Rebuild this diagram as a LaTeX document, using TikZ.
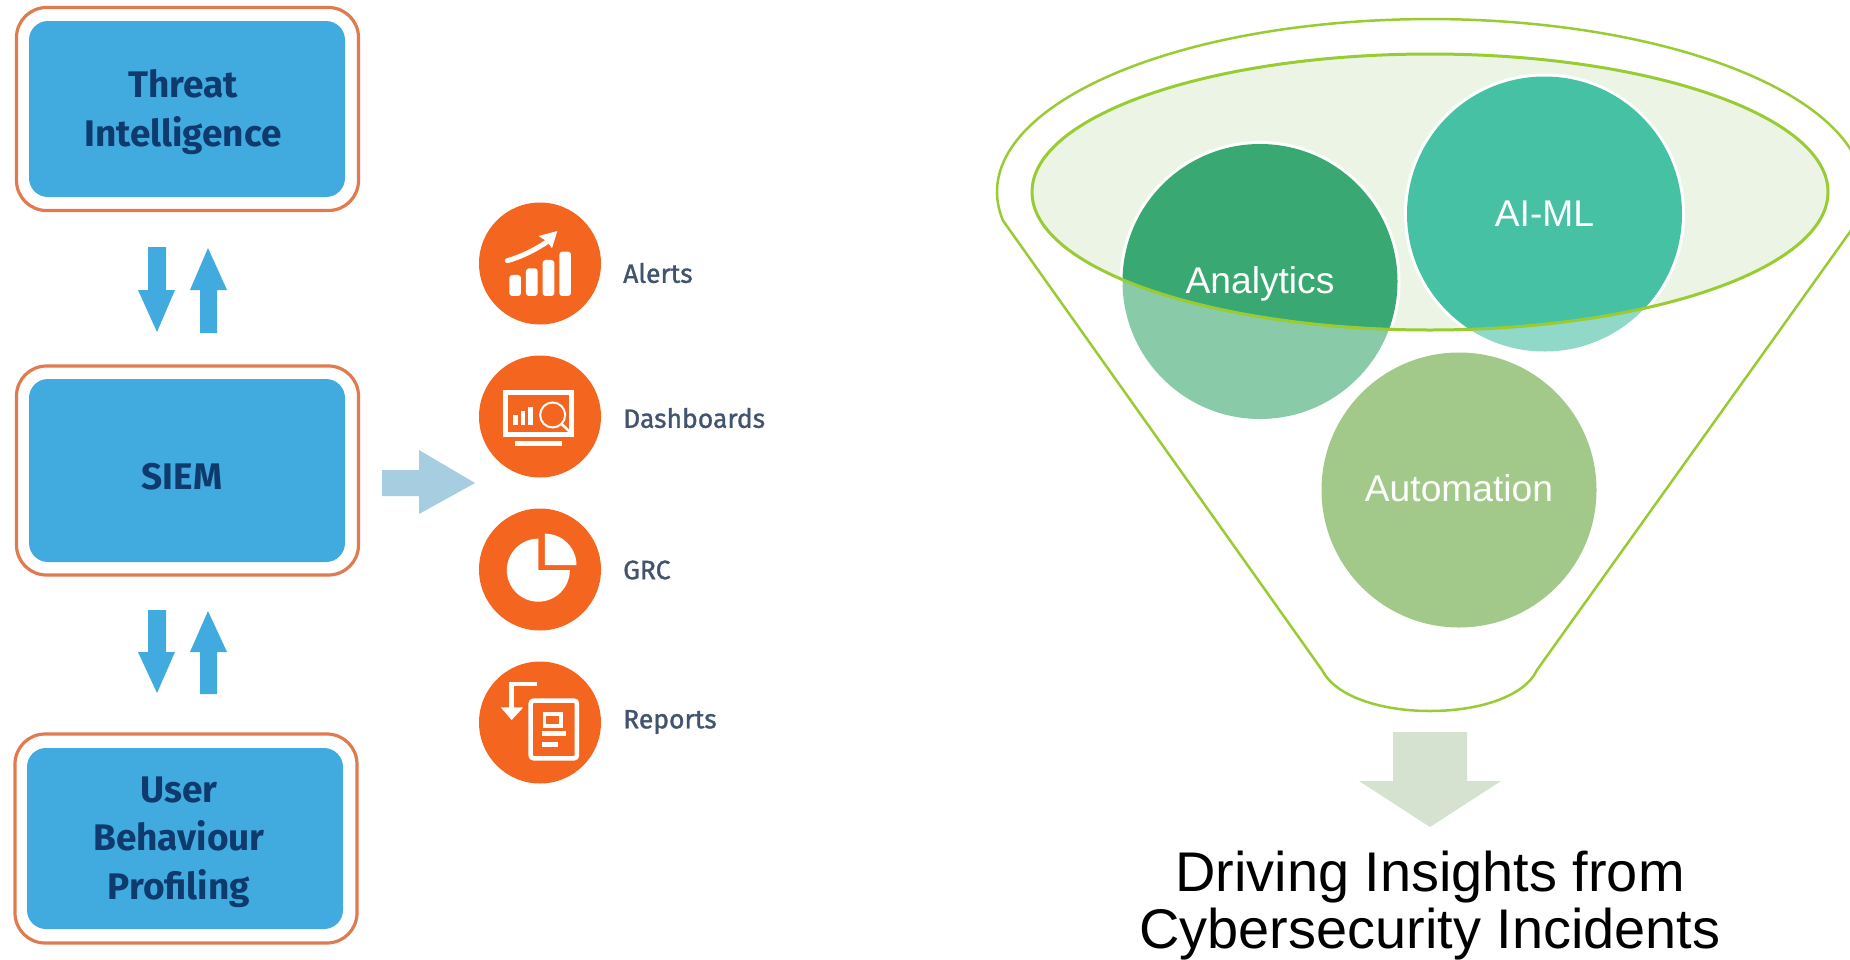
\documentclass[tikz,border=0pt]{standalone}
\usepackage{fontspec}
\setmainfont{Liberation Sans}
\newfontfamily\boxfont{Fira Sans}
\newfontfamily\labfont{Fira Sans}[FakeBold=1.2]
\definecolor{outerline}{HTML}{E07B4F}
\definecolor{boxblue}{HTML}{41ABDF}
\definecolor{boxtext}{HTML}{0E3A6E}
\definecolor{iconorange}{HTML}{F4661F}
\definecolor{labtext}{HTML}{42536F}
\definecolor{bigarrow}{HTML}{A6CDE0}
\definecolor{lime}{HTML}{99CC33}
\definecolor{limefill}{HTML}{ECF5E5}
\definecolor{anDark}{HTML}{3AA873}
\definecolor{anLight}{HTML}{89CAA8}
\definecolor{aiDark}{HTML}{46C1A4}
\definecolor{aiLight}{HTML}{90D9C8}
\definecolor{autoc}{HTML}{A2C98A}
\definecolor{downarrow}{HTML}{D5E2D0}
\tikzset{
  outerbox/.style={draw=outerline,line width=3.2pt,fill=white,rounded corners=30pt,inner sep=0pt,minimum width=342pt,minimum height=203pt},
  innerbox/.style={fill=boxblue,rounded corners=19pt,inner sep=0pt,minimum width=316pt},
  boxlabel/.style={font=\boxfont\bfseries\fontsize{37}{48.5}\selectfont,text=boxtext,align=center,inner sep=0pt},
  iconcircle/.style={circle,fill=iconorange,minimum size=122pt,inner sep=0pt},
  sidelabel/.style={font=\labfont\fontsize{26.5}{30}\selectfont,text=labtext,anchor=west,inner sep=0pt},
  blockblue/.style={fill=boxblue},
  petal/.style={circle,minimum size=275pt,inner sep=0pt},
  petaltext/.style={font=\fontsize{37.2}{44}\selectfont,text=white,inner sep=0pt,anchor=base},
  whiteline/.style={draw=white,line width=5pt},
  icon/.style={x=0.3333pt,y=-0.3333pt}
}
\begin{document}
\begin{tikzpicture}[x=1pt,y=-1pt]
\useasboundingbox (0,0) rectangle (1850,959);
\fill[white] (0,0) rectangle (1850,959);

% ---------- left boxes
\node[outerbox] (o1) at (187.5,109) {};
\node[innerbox,minimum height=176pt] (b1) at (187,109) {};
\node[boxlabel] (t1) at (183,112) {Threat\\Intelligence};
\node[outerbox,minimum height=209pt] (o2) at (187.5,470.5) {};
\node[innerbox,minimum height=183pt] (b2) at (187,470.5) {};
\node[boxlabel] (t2) at (182,477) {SIEM};
\node[outerbox,minimum height=209pt] (o3) at (186,838.5) {};
\node[innerbox,minimum height=181pt] (b3) at (185,838.5) {};
\node[boxlabel] (t3) at (179,842) {User\\Behaviour\\Profiling};

% ---------- small arrows
\fill[blockblue] (148,247)--(166,247)--(166,290)--(175,290)--(157,332)--(138,290)--(148,290)--cycle;
\fill[blockblue] (200,333)--(217,333)--(217,290)--(227,290)--(208,248)--(190,290)--(200,290)--cycle;
\fill[blockblue] (148,610)--(166,610)--(166,652)--(175,652)--(157,693)--(138,652)--(148,652)--cycle;
\fill[blockblue] (200,694)--(217,694)--(217,652)--(227,652)--(208,611)--(190,652)--(200,652)--cycle;
\fill[bigarrow] (382,470)--(419,470)--(419,450)--(475,483)--(419,514)--(419,496)--(382,496)--cycle;

% ---------- icon circles and labels
\node[iconcircle] (c1) at (540,263.5) {};
\node[iconcircle] (c2) at (540,416.5) {};
\node[iconcircle] (c3) at (540,569.5) {};
\node[iconcircle] (c4) at (540,722.5) {};
\node[sidelabel] (l1) at (623,273) {Alerts};
\node[sidelabel] (l2) at (623,418) {Dashboards};
\node[sidelabel] (l3) at (623,570) {GRC};
\node[sidelabel] (l4) at (623,722) {Reports};

% alerts icon
\begin{scope}[icon,xshift=460pt,yshift=-190pt]
  \fill[white,rounded corners=3pt] (148,255) rectangle (183,318);
  \fill[white,rounded corners=3pt] (198,235) rectangle (233,318);
  \fill[white,rounded corners=3pt] (248,210) rectangle (283,318);
  \fill[white,rounded corners=3pt] (298,185) rectangle (333,318);
  \draw[white,line width=5pt,line cap=round] (142,212) .. controls (185,200) and (225,180) .. (265,153);
  \fill[white] (292,123)--(276,175)--(262,155)--(236,138)--cycle;
\end{scope}
% dashboards icon
\begin{scope}[icon,xshift=460pt,yshift=-190pt]
  \draw[white,line width=4.5pt] (137,607) rectangle (335,733);
  \fill[white] (165,752) rectangle (305,768);
  \fill[white] (160,675) rectangle (174,705);
  \fill[white] (182,662) rectangle (196,705);
  \fill[white] (204,650) rectangle (218,705);
  \fill[iconorange] (278,675) circle[radius=13pt];
  \draw[white,line width=2pt] (278,675) circle[radius=12.5pt];
  \draw[white,line width=2.5pt] (305,702)--(336,732);
\end{scope}
% GRC icon
\begin{scope}[icon,xshift=460pt,yshift=-490pt]
  \fill[white] (235,240) -- (235,146) arc[start angle=90,end angle=360,radius=31.5pt] -- cycle;
  \fill[white] (255,225) -- (255,131) arc[start angle=90,end angle=0,radius=31.5pt] -- cycle;
\end{scope}
% reports icon
\begin{scope}[icon,xshift=460pt,yshift=-490pt]
  \draw[white,line width=4.5pt,rounded corners=3pt] (212,632) rectangle (351,805);
  \draw[white,line width=3.5pt] (253,672) rectangle (303,708);
  \fill[white] (245,722) rectangle (318,738);
  \fill[white] (245,755) rectangle (295,770);
  \draw[white,line width=4.5pt] (232,582)--(155,582)--(155,655);
  \fill[white] (122,652)--(190,652)--(155,690)--cycle;
\end{scope}

% ---------- funnel
\begin{scope}
\clip (0,0) rectangle (1850,959);
\coordinate (fl) at (1003,220.6);
\coordinate (bl) at (1322,670);
\coordinate (br) at (1537,670);
\coordinate (bot) at (1430,711);
\draw[lime,line width=2.5pt,line join=round] (fl)
  arc[start angle=189.5,end angle=-9.5,x radius=433.5pt,y radius=173pt]
  -- (br) .. controls (1525,696) and (1480,711) .. (bot)
  .. controls (1380,711) and (1335,696) .. (bl) -- cycle;
\node[petal,fill=anLight] (an) at (1260,281.5) {};
\node[petal,fill=aiLight] (ai) at (1544.5,214) {};
\path[fill=limefill] (1430,192) ellipse[x radius=398pt,y radius=138pt];
\begin{scope}
  \clip (1430,192) ellipse[x radius=398pt,y radius=138pt];
  \draw[whiteline] (an.center) circle[radius=138pt];
  \draw[whiteline] (ai.center) circle[radius=138pt];
  \fill[anDark] (an.center) circle[radius=137.5pt];
  \fill[aiDark] (ai.center) circle[radius=137.5pt];
\end{scope}
\draw[lime,line width=3pt] (1430,192) ellipse[x radius=398pt,y radius=138pt];
\node[petal,fill=autoc] (au) at (1459,490) {};
\node[petaltext] (tan) at (1260,293) {Analytics};
\node[petaltext] (tai) at (1544.5,226) {AI-ML};
\node[petaltext] (tau) at (1459,501) {Automation};
\end{scope}

% ---------- bottom arrow and title
\fill[downarrow] (1393,732)--(1467,732)--(1467,781)--(1501,781)--(1430,827)--(1359,781)--(1393,781)--cycle;
\node[font=\fontsize{55.9}{57}\selectfont,align=center,inner sep=0pt,anchor=base] (title) at (1430,948) {Driving Insights from\\Cybersecurity Incidents};
\end{tikzpicture}
\end{document}
